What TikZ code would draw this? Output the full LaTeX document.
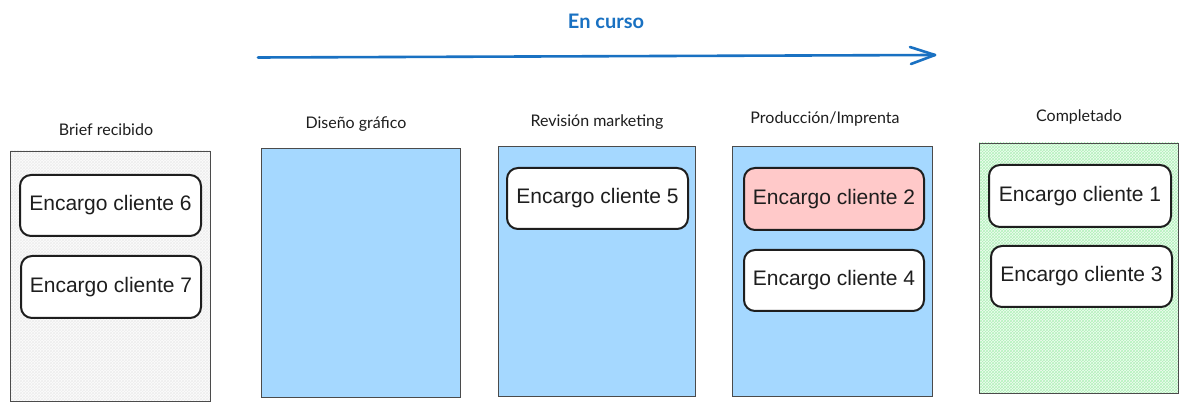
\documentclass[tikz,border=0pt]{standalone}
\usepackage{fontspec}
\setmainfont{Lato}
\newfontfamily\cardfont{Liberation Sans}
\usetikzlibrary{patterns}
\definecolor{inkc}{HTML}{1E1E1E}
\definecolor{bluec}{HTML}{1971C2}
\definecolor{colblue}{HTML}{A5D8FF}
\definecolor{pinkc}{HTML}{FFC9C9}
\definecolor{grayhatch}{HTML}{EEEEEE}
\definecolor{greenhatch}{HTML}{B2F2BB}
\tikzset{
  colbox/.style={draw=inkc!80, line width=0.9pt, inner sep=0pt},
  collabel/.style={font=\fontsize{16}{19}\selectfont, text=inkc, inner sep=0pt},
  card/.style={draw=inkc, line width=2pt, rounded corners=11pt, fill=white, inner sep=0pt,
     font=\cardfont\fontsize{21}{24}\selectfont, text=inkc},
}
\begin{document}
\begin{tikzpicture}[x=1pt,y=-1pt]
\useasboundingbox (0,0) rectangle (1189,411);
\fill[white] (0,0) rectangle (1189,411);

% title and arrow
\node[font=\fontsize{20}{24}\selectfont\bfseries, text=bluec, inner sep=0pt] (title) at (606,21) {En curso};
\coordinate (arrS) at (258,57.5);
\coordinate (arrE) at (935,55);
\draw[bluec, line width=2.6pt, line cap=round] (arrS) -- (arrE);
\draw[bluec, line width=2.6pt, line cap=round, line join=round] (910,47) -- (arrE) -- (911,64);

% columns
\fill[grayhatch!20] (10,151) rectangle (210,401);
\fill[pattern=crosshatch, pattern color=grayhatch] (10,151) rectangle (210,401);
\node[colbox, minimum width=200pt, minimum height=250pt, anchor=north west] (c1) at (10,151) {};

\node[colbox, fill=colblue, minimum width=199pt, minimum height=249pt, anchor=north west] (c2) at (261,148) {};
\node[colbox, fill=colblue, minimum width=197pt, minimum height=250pt, anchor=north west] (c3) at (498,146) {};
\node[colbox, fill=colblue, minimum width=200pt, minimum height=250pt, anchor=north west] (c4) at (732,146) {};

\fill[greenhatch!20] (979,143) rectangle (1178,393);
\fill[pattern=crosshatch, pattern color=greenhatch] (979,143) rectangle (1178,393);
\node[colbox, minimum width=199pt, minimum height=250pt, anchor=north west] (c5) at (979,143) {};

% column labels
\node[collabel] (l1) at (106,130) {Brief recibido};
\node[collabel] (l2) at (356,124) {Diseño gráfico};
\node[collabel] (l3) at (597,122) {Revisión marketing};
\node[collabel] (l4) at (825,119) {Producción/Imprenta};
\node[collabel] (l5) at (1079,117) {Completado};

% cards
\node[card, minimum width=181pt, minimum height=61pt] (k6) at (110.5,205.5) {Encargo cliente 6};
\node[card, minimum width=180pt, minimum height=62pt] (k7) at (111,287) {Encargo cliente 7};
\node[card, minimum width=181pt, minimum height=61pt] (k5) at (597.5,198.5) {Encargo cliente 5};
\node[card, fill=pinkc, minimum width=180pt, minimum height=62pt] (k2) at (834,199) {Encargo cliente 2};
\node[card, minimum width=180pt, minimum height=61pt] (k4) at (834,280.5) {Encargo cliente 4};
\node[card, minimum width=182pt, minimum height=62pt] (k1) at (1080,196) {Encargo cliente 1};
\node[card, minimum width=181pt, minimum height=61pt] (k3) at (1081.5,276.5) {Encargo cliente 3};
\end{tikzpicture}
\end{document}
